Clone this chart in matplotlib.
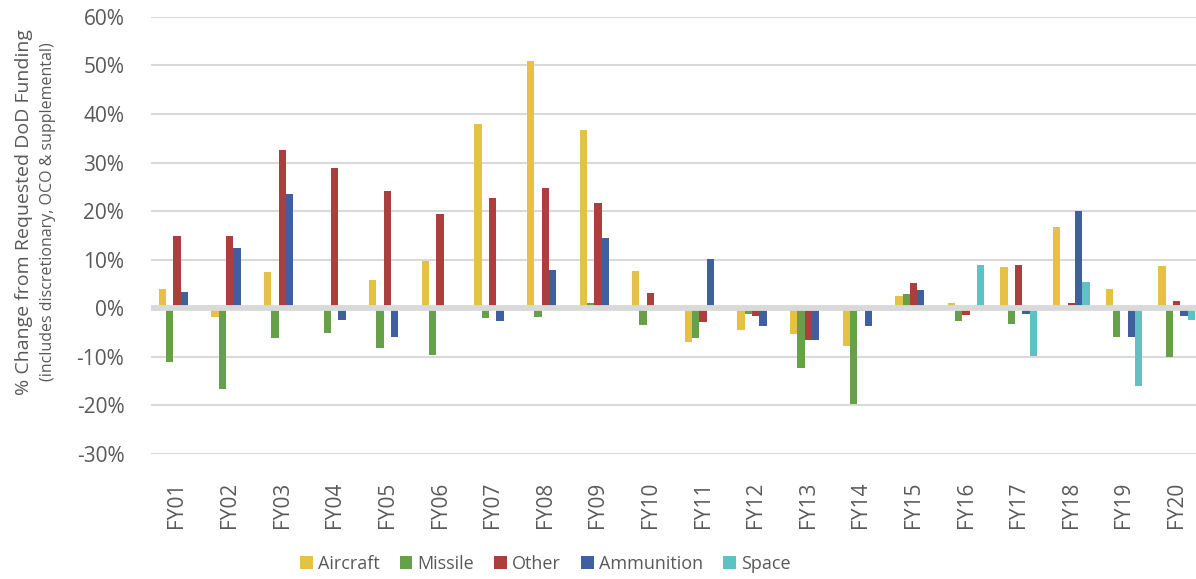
import numpy as np
import matplotlib
matplotlib.use("Agg")
import matplotlib.pyplot as plt
from matplotlib.ticker import PercentFormatter

plt.rcParams['font.family'] = ['Open Sans', 'DejaVu Sans']
plt.rcParams['axes.unicode_minus'] = False

years = ["FY%02d" % i for i in range(1, 21)]

# % change from requested funding
aircraft = [4.0, -1.8, 7.5, 0.0, 5.9, 9.8, 37.9, 50.8, 36.6, 7.7,
            -7.0, -4.5, -5.3, -7.8, 2.6, 1.0, 8.4, 16.8, 4.0, 8.6]
missile = [-11.1, -16.6, -6.2, -5.1, -8.2, -9.7, -2.1, -1.8, 1.0, -3.5,
           -6.2, -1.2, -12.3, -19.7, 3.0, -2.7, -3.3, 0.0, -6.0, -10.1]
other = [14.9, 14.9, 32.5, 28.8, 24.1, 19.5, 22.7, 24.8, 21.7, 3.2,
         -2.9, -1.6, -6.6, -0.6, 5.1, -1.4, 8.8, 1.0, 0.0, 1.4]
ammunition = [3.4, 12.3, 23.5, -2.5, -6.0, 0.0, -2.7, 7.9, 14.5, 0.0,
              10.2, -3.7, -6.6, -3.7, 3.8, 0.0, -1.2, 20.1, -6.0, -1.6]
space = [0.0] * 15 + [8.8, -9.9, 5.3, -16.0, -2.5]

series = [("Aircraft", aircraft, "#E5C144"),
          ("Missile", missile, "#66A049"),
          ("Other", other, "#AD3E3E"),
          ("Ammunition", ammunition, "#3F5F9E"),
          ("Space", space, "#5EC2C5")]

grey = "#595959"
fig = plt.figure(figsize=(11.96, 5.79), dpi=100)
ax = fig.add_axes([0.126, 0.216, 0.874, 0.755])

x = np.arange(len(years))
w = 0.139
for k, (name, vals, col) in enumerate(series):
    ax.bar(x + (k - 2) * w, vals, w, color=col, label=name, zorder=2)

ax.axhline(0, color="#D9D9D9", lw=4.2, zorder=3)
ax.set_ylim(-30, 60)
ax.set_yticks(np.arange(-30, 61, 10))
ax.yaxis.set_major_formatter(PercentFormatter(decimals=0))
ax.set_xlim(-0.5, 19.37)
ax.set_xticks(x)
ax.set_xticklabels(years, rotation=90)
ax.grid(axis="y", color="#D9D9D9", lw=1.5, zorder=0)
ax.set_axisbelow(True)
for s in ax.spines.values():
    s.set_visible(False)
ax.tick_params(axis="y", length=0, pad=19, labelsize=15, labelcolor=grey)
ax.tick_params(axis="x", length=0, pad=20, labelsize=15, labelcolor=grey)

fig.text(0.020, 0.634, "% Change from Requested DoD Funding", rotation=90,
         ha="center", va="center", fontsize=14, color=grey)
fig.text(0.040, 0.634, "(includes discretionary, OCO & supplemental)", rotation=90,
         ha="center", va="center", fontsize=11.5, color=grey)

fig.legend(loc="center", bbox_to_anchor=(0.456, 0.026), ncol=5, frameon=False,
           fontsize=13, labelcolor=grey, handlelength=0.7, handleheight=0.7,
           handletextpad=0.3, columnspacing=1.1)

fig.savefig("out.png", dpi=100)
